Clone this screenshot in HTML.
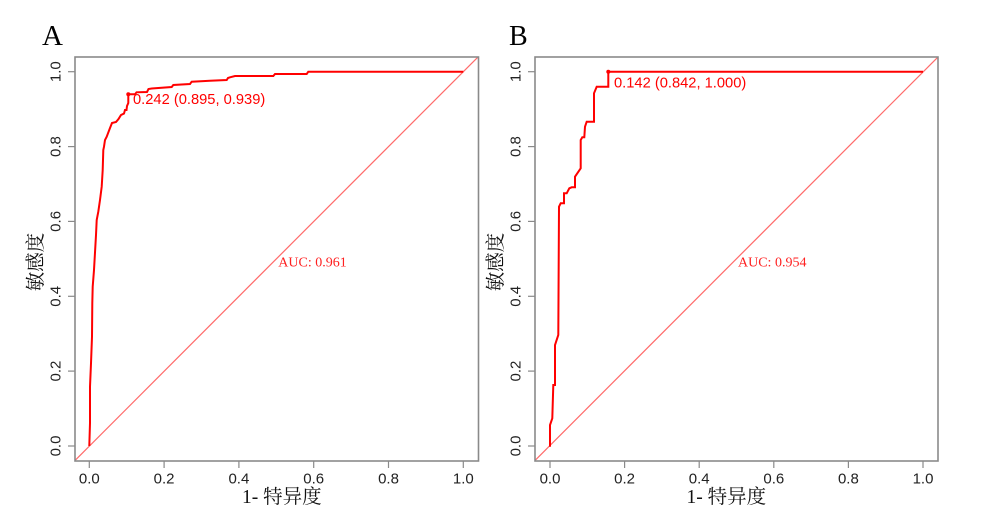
<!DOCTYPE html>
<html>
<head>
<meta charset="utf-8">
<style>
  html, body { margin:0; padding:0; background:#fff; }
  svg { display:block; }
  .tick { font-family:"Liberation Sans", Arial, sans-serif; font-size:15px; fill:#222; }
  .ser { font-family:"Liberation Serif", "Noto Serif CJK SC", serif; }
  .lab { font-family:"Liberation Serif", "Noto Serif CJK SC", serif; font-size:19.5px; fill:#111; }
</style>
</head>
<body>
<svg width="983" height="512" viewBox="0 0 983 512" xmlns="http://www.w3.org/2000/svg">
  <rect x="0" y="0" width="983" height="512" fill="#fff"/>
  <defs>
    <clipPath id="cA"><rect x="75" y="57" width="403.5" height="404"/></clipPath>
    <clipPath id="cB"><rect x="535" y="57" width="403" height="404"/></clipPath>
  </defs>

  <!-- Panel letters -->
  <text x="42" y="45" class="ser" font-size="29" fill="#000">A</text>
  <text x="509" y="45" class="ser" font-size="28" fill="#000">B</text>

  <!-- ================= Panel A ================= -->
  <g>
    <line x1="75" y1="57" x2="478.5" y2="461" stroke="none"/>
    <g clip-path="url(#cA)">
      <line x1="74" y1="461.5" x2="479" y2="56" stroke="#ff6a6a" stroke-width="1.2"/>
    </g>
    <rect x="75" y="57" width="403.5" height="404" fill="none" stroke="#8a8a8a" stroke-width="1.6"/>
    <!-- y ticks -->
    <g stroke="#8a8a8a" stroke-width="1.2">
      <line x1="68" y1="446" x2="75" y2="446"/>
      <line x1="68" y1="371.1" x2="75" y2="371.1"/>
      <line x1="68" y1="296.3" x2="75" y2="296.3"/>
      <line x1="68" y1="221.4" x2="75" y2="221.4"/>
      <line x1="68" y1="146.6" x2="75" y2="146.6"/>
      <line x1="68" y1="71.7" x2="75" y2="71.7"/>
      <line x1="89.3" y1="461" x2="89.3" y2="468"/>
      <line x1="164.1" y1="461" x2="164.1" y2="468"/>
      <line x1="238.9" y1="461" x2="238.9" y2="468"/>
      <line x1="313.7" y1="461" x2="313.7" y2="468"/>
      <line x1="388.5" y1="461" x2="388.5" y2="468"/>
      <line x1="463.3" y1="461" x2="463.3" y2="468"/>
    </g>
    <g class="tick" text-anchor="middle">
      <text transform="translate(60.5,446) rotate(-90)">0.0</text>
      <text transform="translate(60.5,371.1) rotate(-90)">0.2</text>
      <text transform="translate(60.5,296.3) rotate(-90)">0.4</text>
      <text transform="translate(60.5,221.4) rotate(-90)">0.6</text>
      <text transform="translate(60.5,146.6) rotate(-90)">0.8</text>
      <text transform="translate(60.5,71.7) rotate(-90)">1.0</text>
      <text x="89.3" y="483.5">0.0</text>
      <text x="164.1" y="483.5">0.2</text>
      <text x="238.9" y="483.5">0.4</text>
      <text x="313.7" y="483.5">0.6</text>
      <text x="388.5" y="483.5">0.8</text>
      <text x="463.3" y="483.5">1.0</text>
    </g>
    <text x="242" y="503" class="lab">1- 特异度</text>
    <text transform="translate(42,262) rotate(-90)" class="lab" text-anchor="middle" font-size="21">敏感度</text>

    <polyline fill="none" stroke="#ff0000" stroke-width="2" stroke-linejoin="miter"
      points="89.3,446 90,423 90,386.7 91,363.3 92,336.7 92.3,303.3 92.7,286.7 94,270 96,235 96.7,220 98.3,211.7 100,200 101.7,186.7 102.7,170 103.3,150 104,146.7 105,140 106.7,136.7 110,128 112,123 116,122 118.5,119 121,115 124,113.5 125,110 126.5,110 127,106 128.3,103 128.3,94.3 135,94.3 136.5,92.3 147,92 148.5,89 151.7,88.5 171.7,87 173.3,85 190,84 191.7,81.7 210,80.7 226.7,80 228,78 230,77.3 235,76 273.3,76 275,74 306.7,74 308.3,71.7 463.3,71.7"/>
    <circle cx="128.3" cy="94.3" r="2" fill="#ff0000"/>
    <text x="133" y="104" font-family="'Liberation Sans', Arial, sans-serif" font-size="14.7" fill="#ff0000">0.242 (0.895, 0.939)</text>
    <text x="278.3" y="266.7" class="ser" font-size="14" fill="#ff2020">AUC: 0.961</text>
  </g>

  <!-- ================= Panel B ================= -->
  <g>
    <g clip-path="url(#cB)">
      <line x1="534" y1="461.5" x2="939" y2="56" stroke="#ff6a6a" stroke-width="1.2"/>
    </g>
    <rect x="535" y="57" width="403" height="404" fill="none" stroke="#8a8a8a" stroke-width="1.6"/>
    <g stroke="#8a8a8a" stroke-width="1.2">
      <line x1="528" y1="446" x2="535" y2="446"/>
      <line x1="528" y1="371.1" x2="535" y2="371.1"/>
      <line x1="528" y1="296.3" x2="535" y2="296.3"/>
      <line x1="528" y1="221.4" x2="535" y2="221.4"/>
      <line x1="528" y1="146.6" x2="535" y2="146.6"/>
      <line x1="528" y1="71.7" x2="535" y2="71.7"/>
      <line x1="550" y1="461" x2="550" y2="468"/>
      <line x1="624.6" y1="461" x2="624.6" y2="468"/>
      <line x1="699.2" y1="461" x2="699.2" y2="468"/>
      <line x1="773.8" y1="461" x2="773.8" y2="468"/>
      <line x1="848.4" y1="461" x2="848.4" y2="468"/>
      <line x1="923" y1="461" x2="923" y2="468"/>
    </g>
    <g class="tick" text-anchor="middle">
      <text transform="translate(520.5,446) rotate(-90)">0.0</text>
      <text transform="translate(520.5,371.1) rotate(-90)">0.2</text>
      <text transform="translate(520.5,296.3) rotate(-90)">0.4</text>
      <text transform="translate(520.5,221.4) rotate(-90)">0.6</text>
      <text transform="translate(520.5,146.6) rotate(-90)">0.8</text>
      <text transform="translate(520.5,71.7) rotate(-90)">1.0</text>
      <text x="550" y="483.5">0.0</text>
      <text x="624.6" y="483.5">0.2</text>
      <text x="699.2" y="483.5">0.4</text>
      <text x="773.8" y="483.5">0.6</text>
      <text x="848.4" y="483.5">0.8</text>
      <text x="923" y="483.5">1.0</text>
    </g>
    <text x="686.5" y="503" class="lab">1- 特异度</text>
    <text transform="translate(502,262) rotate(-90)" class="lab" text-anchor="middle" font-size="21">敏感度</text>

    <polyline fill="none" stroke="#ff0000" stroke-width="2" stroke-linejoin="miter"
      points="550,446.7 550,425 552.3,418.3 553.3,385 555,385 555,345 558.3,335 559,206.7 560.7,203.3 564,203.3 564,193.3 566.7,193.3 569.3,188.3 571.7,187.3 575,187.3 575,176.7 577.3,173.3 580.7,168.3 580.7,140 582.3,137.3 584.3,137.3 585,126.7 586.7,121.7 594,121.7 594,93.3 596.7,86.7 608.3,86.7 608.3,71.7 923,71.7"/>
    <circle cx="608.3" cy="71.7" r="2" fill="#ff0000"/>
    <text x="614" y="87.5" font-family="'Liberation Sans', Arial, sans-serif" font-size="14.7" fill="#ff0000">0.142 (0.842, 1.000)</text>
    <text x="738" y="266.7" class="ser" font-size="14" fill="#ff2020">AUC: 0.954</text>
  </g>
</svg>
</body>
</html>
